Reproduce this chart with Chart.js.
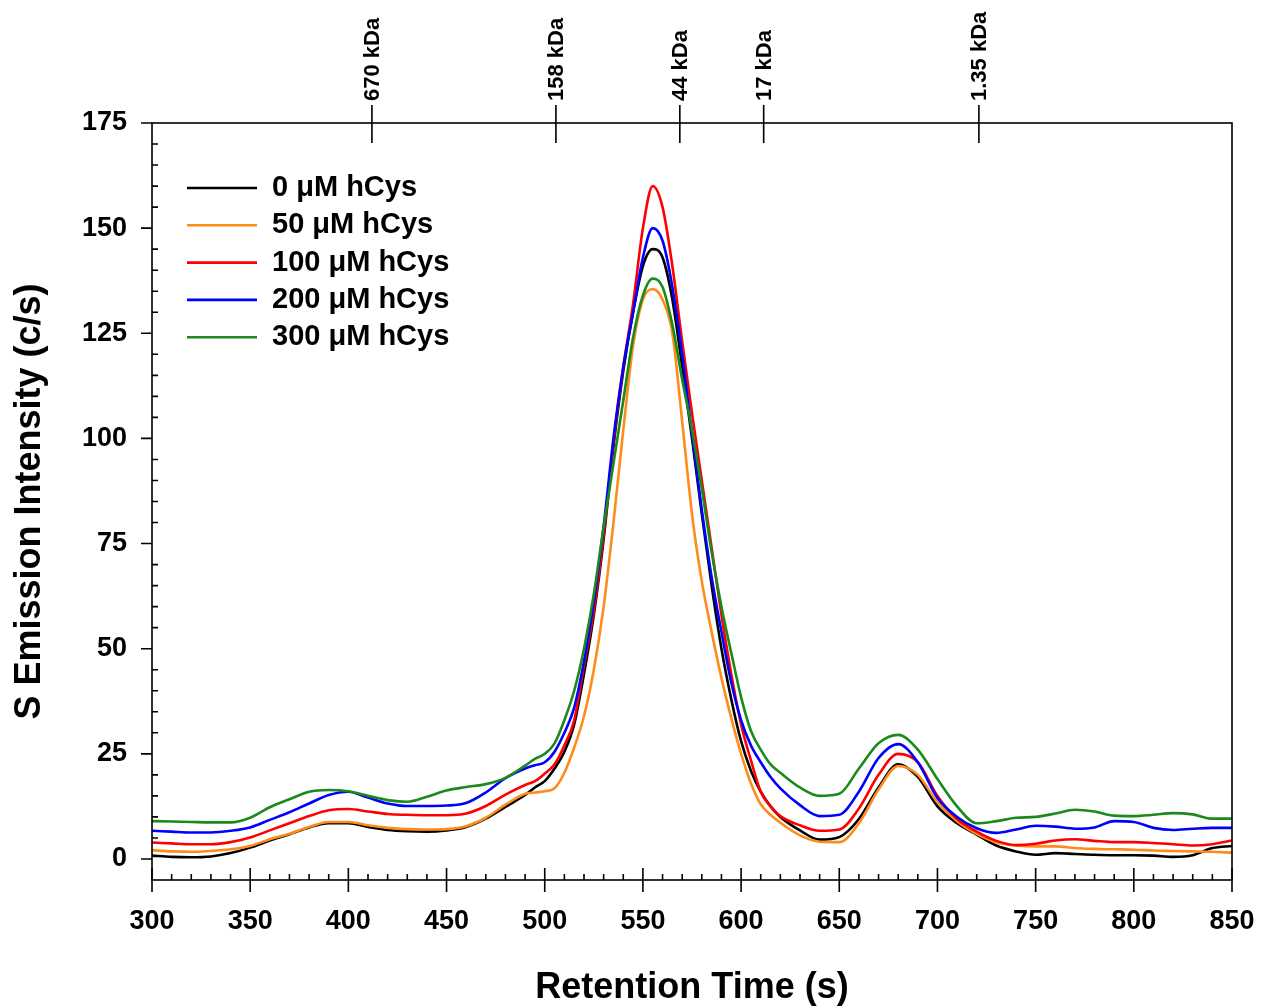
<!DOCTYPE html>
<html>
<head>
<meta charset="utf-8">
<script src="https://cdn.jsdelivr.net/npm/chart.js@4.4.1/dist/chart.umd.min.js"></script>
<style>
  body { margin: 0; background: #fff; }
</style>
</head>
<body>
<canvas id="sec" width="1262" height="1006"></canvas>
<script>
// retention times (s)
const times = [300, 310, 320, 330, 340, 350, 360, 370, 380, 390, 400, 410, 420, 430, 440, 450, 460, 470, 480, 490,
  495, 500, 505, 510, 515, 520, 525, 530, 535, 540, 545, 550, 555, 560, 565, 570, 575, 580, 585, 590, 595, 600, 605, 610, 615, 620,
  630, 640, 650, 660, 670, 680, 690, 700, 710, 720, 730, 740, 750, 760, 770, 780, 790, 800, 810, 820, 830, 840, 850];

// S emission intensity (c/s) per hCys concentration
const hcys0 = [0.8, 0.5, 0.4, 0.6, 1.4, 2.7, 4.4, 5.9, 7.5, 8.5, 8.5, 7.6, 6.9, 6.6, 6.5, 6.8, 7.6, 9.6, 12.4, 15.2,
  17, 18.5, 21.5, 25.5, 32, 44, 58, 76, 98, 116, 130, 141, 145, 143, 133, 117, 100, 82, 65, 50, 38, 28, 21, 16, 12.5, 10,
  6.8, 4.6, 5.2, 9.5, 17, 22.5, 19.5, 12.5, 8.5, 5.8, 3.2, 1.8, 1.0, 1.4, 1.2, 1.0, 0.9, 0.9, 0.8, 0.5, 0.9, 2.6, 3.1];
const hcys50 = [2.1, 1.8, 1.7, 1.9, 2.3, 3.1, 4.7, 6.0, 7.6, 8.8, 8.8, 8.0, 7.4, 7.1, 7.0, 7.1, 7.8, 9.8, 12.9, 15.5,
  15.8, 16.1, 16.8, 20.5, 26.5, 34, 45, 60, 80, 102, 122, 133, 135.5, 133, 125, 104, 82, 66, 54, 43, 33.5, 25, 18, 13, 10.5, 8.6,
  5.6, 4.1, 4.0, 8.5, 16.5, 22.1, 20, 13.5, 9, 6, 4.0, 3.2, 3.0, 3.0, 2.6, 2.4, 2.3, 2.2, 2.0, 1.9, 1.8, 1.7, 1.5];
const hcys100 = [3.9, 3.7, 3.5, 3.5, 4.0, 5.1, 6.8, 8.5, 10.2, 11.6, 11.9, 11.3, 10.7, 10.5, 10.4, 10.4, 10.8, 12.6, 15.3, 17.6,
  18.5, 20.3, 22.5, 27, 33, 46, 59, 77, 99, 117, 132, 150, 160, 155, 141, 123, 106, 90, 74, 58, 44, 32, 23.5, 16, 12.5, 10.2,
  8.0, 6.7, 7.0, 12, 20, 25, 23, 15, 9.5, 6.5, 4.3, 3.3, 3.6, 4.4, 4.7, 4.3, 4.0, 4.0, 3.8, 3.5, 3.2, 3.5, 4.4];
const hcys200 = [6.7, 6.5, 6.3, 6.3, 6.7, 7.5, 9.3, 11.1, 13.2, 15.2, 16.0, 14.6, 13.2, 12.6, 12.6, 12.7, 13.3, 15.8, 19.2, 21.5,
  22.3, 23, 25.5, 30, 36, 47, 61, 79, 100, 117, 130, 143, 150, 147, 136, 120, 101, 83, 67, 54, 42, 33, 27, 23, 19.5, 16.8,
  12.8, 10.2, 10.5, 16, 24, 27.3, 23, 14.5, 10, 7.3, 6.2, 7.0, 7.9, 7.7, 7.2, 7.5, 9.0, 8.8, 7.4, 6.9, 7.2, 7.4, 7.4];
const hcys300 = [9.0, 8.9, 8.8, 8.7, 8.7, 9.8, 12.3, 14.2, 16.0, 16.4, 16.1, 15.0, 14.0, 13.6, 14.8, 16.3, 17.1, 17.8, 19.3, 22.2,
  23.8, 25, 27.5, 33, 40, 50, 63, 79, 94, 109, 124, 134, 138, 136, 127, 114, 102, 88, 73, 60, 49, 38.5, 30.5, 26, 22.5, 20.5,
  17, 15.0, 15.5, 21.5, 27.5, 29.5, 26, 19, 12.5, 8.5, 9.0, 9.8, 10.0, 10.8, 11.7, 11.3, 10.3, 10.2, 10.5, 10.9, 10.6, 9.6, 9.6];

const seriesLabels = ["0 \u03bcM hCys", "50 \u03bcM hCys", "100 \u03bcM hCys", "200 \u03bcM hCys", "300 \u03bcM hCys"];
const seriesColors = ["#000000", "#ff8c1a", "#ff0000", "#0000ff", "#1a8a1a"];

const xTicks = [300, 350, 400, 450, 500, 550, 600, 650, 700, 750, 800, 850];
const yTicks = [0, 25, 50, 75, 100, 125, 150, 175];

// size standards on the top axis
const markerTimes = [412, 505.7, 568.8, 611.5, 721.1];
const markerLabels = ["670 kDa", "158 kDa", "44 kDa", "17 kDa", "1.35 kDa"];

const FONT = "'Liberation Sans', Arial, sans-serif";
Chart.defaults.color = "#000";
Chart.defaults.font.family = FONT;

const allSeries = [hcys0, hcys50, hcys100, hcys200, hcys300];
const datasets = allSeries.map((vals, i) => ({
  label: seriesLabels[i],
  data: times.map((t, j) => ({ x: t, y: vals[j] })),
  borderColor: seriesColors[i],
  borderWidth: 2.6,
  pointRadius: 0,
  fill: false,
  cubicInterpolationMode: "monotone",
  order: 5 - i,
}));

const framePlugin = {
  id: "frame",
  afterDraw(chart) {
    const { ctx, chartArea: a, scales } = chart;
    const x = scales.x, y = scales.y;
    ctx.save();
    ctx.strokeStyle = "#000";
    ctx.lineWidth = 1.6;
    ctx.strokeRect(a.left, a.top, a.right - a.left, a.bottom - a.top);

    ctx.beginPath();
    // bottom axis ticks
    for (let t = x.min; t <= x.max; t += 10) {
      const px = x.getPixelForValue(t);
      if (t % 50 === 0) {
        ctx.moveTo(px, a.bottom - 12);
        ctx.lineTo(px, a.bottom + 12);
      } else {
        ctx.moveTo(px, a.bottom - 6);
        ctx.lineTo(px, a.bottom);
      }
    }
    // left axis ticks
    for (let v = 0; v <= y.max; v += 5) {
      const py = y.getPixelForValue(v);
      if (v % 25 === 0) {
        ctx.moveTo(a.left - 11, py);
        ctx.lineTo(a.left, py);
      } else {
        ctx.moveTo(a.left, py);
        ctx.lineTo(a.left + 6, py);
      }
    }
    // top marker ticks
    markerTimes.forEach((t) => {
      const px = x.getPixelForValue(t);
      ctx.moveTo(px, a.top - 18);
      ctx.lineTo(px, a.top + 20);
    });
    ctx.stroke();

    // marker labels
    ctx.fillStyle = "#000";
    ctx.font = "bold 22px " + FONT;
    ctx.textAlign = "left";
    ctx.textBaseline = "middle";
    markerTimes.forEach((t, i) => {
      const px = x.getPixelForValue(t);
      ctx.save();
      ctx.translate(px + 1, a.top - 22);
      ctx.rotate(-Math.PI / 2);
      ctx.fillText(markerLabels[i], 0, 0);
      ctx.restore();
    });

    // legend
    ctx.font = "bold 29px " + FONT;
    ctx.lineWidth = 2.6;
    chart.data.datasets.forEach((ds, i) => {
      const ly = a.top + 65 + i * 37.3;
      ctx.strokeStyle = ds.borderColor;
      ctx.beginPath();
      ctx.moveTo(a.left + 35, ly);
      ctx.lineTo(a.left + 105, ly);
      ctx.stroke();
      ctx.fillText(ds.label, a.left + 120, ly);
    });
    ctx.restore();
  },
};

new Chart(document.getElementById("sec"), {
  type: "line",
  data: { datasets },
  options: {
    responsive: false,
    animation: false,
    devicePixelRatio: 1,
    layout: { padding: { top: 123, right: 30, left: 0, bottom: 0 } },
    plugins: { legend: { display: false }, tooltip: { enabled: false } },
    scales: {
      x: {
        type: "linear",
        min: 300,
        max: 850,
        afterBuildTicks: (s) => { s.ticks = xTicks.map((v) => ({ value: v })); },
        afterFit: (s) => { s.height = 126; s.paddingLeft = 0; s.paddingRight = 0; },
        grid: { display: false, drawTicks: false },
        border: { display: false },
        ticks: { font: { size: 27, weight: "bold" }, padding: 25, maxRotation: 0 },
        title: {
          display: true,
          text: "Retention Time (s)",
          font: { size: 36, weight: "bold", lineHeight: 1 },
          padding: { top: 0, bottom: 0 },
        },
      },
      y: {
        min: -5,
        max: 175,
        afterBuildTicks: (s) => { s.ticks = yTicks.map((v) => ({ value: v })); },
        afterFit: (s) => { s.width = 152; s.paddingTop = 0; s.paddingBottom = 0; },
        grid: { display: false, drawTicks: false },
        border: { display: false },
        ticks: { font: { size: 27, weight: "bold" }, padding: 25 },
        title: {
          display: true,
          text: "S Emission Intensity (c/s)",
          font: { size: 36, weight: "bold", lineHeight: 1 },
          padding: { top: 12, bottom: 0 },
        },
      },
    },
  },
  plugins: [framePlugin],
});
</script>
</body>
</html>
